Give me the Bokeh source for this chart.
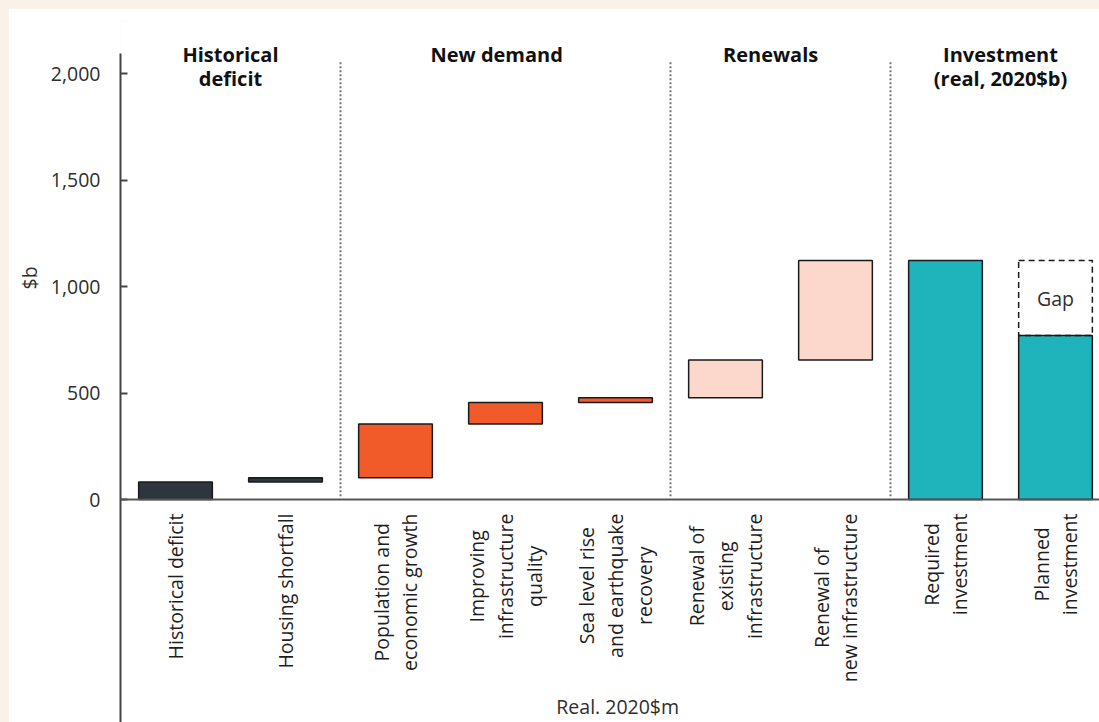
import math
from bokeh.plotting import figure
from bokeh.layouts import column
from bokeh.models import (ColumnDataSource, Range1d, FixedTicker, NumeralTickFormatter,
                          Label, Span, Title)
from bokeh.core.properties import value
from bokeh.embed import file_html
from bokeh.resources import INLINE

# ---- data ----
categories = ["Historical deficit", "Housing shortfall", "Population and\neconomic growth",
              "Improving\ninfrastructure\nquality", "Sea level rise\nand earthquake\nrecovery",
              "Renewal of\nexisting\ninfrastructure", "Renewal of\nnew infrastructure",
              "Required\ninvestment", "Planned\ninvestment"]
bar_bottom = [0, 82, 102, 355, 455, 478, 655, 0, 0]
bar_top = [82, 102, 355, 455, 478, 655, 1122, 1122, 770]
bar_group = ["Historical", "Historical", "New demand", "New demand", "New demand",
             "Renewals", "Renewals", "Investment", "Investment"]
gap_bottom = 770
gap_top = 1122
gap_label = "Gap"
group_titles = ["Historical\ndeficit", "New demand", "Renewals", "Investment\n(real, 2020$b)"]
y_ticks = [0, 500, 1000, 1500, 2000]
y_label = "$b"
x_label = "Real. 2020$m"

# ---- styles ----
FONT = "Open Sans"
group_colors = {"Historical": "#2D363F", "New demand": "#F15A29",
                "Renewals": "#FBD7CC", "Investment": "#1FB3BC"}
title_x = [0.5, 2.92, 5.41, 7.5]
sep_x = [1.5, 4.5, 6.5]
Y_TOP, Y_BOTTOM = 2249, -1047
AXIS_TOP = 2094

xs = list(range(len(categories)))
src = ColumnDataSource(dict(x=xs, bottom=bar_bottom, top=bar_top,
                            color=[group_colors[g] for g in bar_group],
                            label=categories))

p = figure(width=1091, height=714, x_range=Range1d(-0.5, 8.4), y_range=Range1d(Y_BOTTOM, Y_TOP),
           output_backend="svg", toolbar_location=None, x_axis_location=None,
           min_border_left=112, min_border_top=12, min_border_right=0, min_border_bottom=0,
           background_fill_color="white", border_fill_color="white")
p.outline_line_color = None
p.grid.visible = False

# y axis
ya = p.yaxis[0]
ya.bounds = (Y_BOTTOM, AXIS_TOP)
ya.ticker = FixedTicker(ticks=y_ticks)
ya.formatter = NumeralTickFormatter(format="0,0")
ya.major_tick_in = 7
ya.major_tick_out = 0
ya.minor_tick_line_color = None
ya.axis_line_width = 2
ya.axis_line_color = "#444444"
ya.major_tick_line_width = 2
ya.major_tick_line_color = "#444444"
ya.major_label_text_font = FONT
ya.major_label_text_font_size = "19.5px"
ya.major_label_text_color = "#2e2e2e"
ya.major_label_standoff = 20

# y axis title ("$b"), placed near the 1,000 tick via a side title
p.add_layout(Title(text=y_label, align="left", offset=433, standoff=10,
                   text_font=FONT, text_font_size="19.5px", text_font_style="normal",
                   text_color="#2e2e2e"), "left")

# baseline (x axis line)
p.add_layout(Span(location=0, dimension="width", line_color="#555555", line_width=2))

# separators
p.segment(x0=sep_x, y0=[15] * 3, x1=sep_x, y1=[2055] * 3, line_color="#777777",
          line_width=2, line_dash="2 2")

# bars
p.vbar(x="x", bottom="bottom", top="top", width=0.67, fill_color="color",
       line_color="#1a1a1a", line_width=1.5, source=src)

# gap
p.vbar(x=[xs[-1]], bottom=[gap_bottom], top=[gap_top], width=0.67, fill_color=None,
       line_color="#1a1a1a", line_width=1.5, line_dash="6 4")
p.add_layout(Label(x=xs[-1], y=(gap_bottom + gap_top) / 2, text=gap_label,
                   text_font=FONT, text_font_size="19.5px", text_color="#2e2e2e",
                   text_align="center", text_baseline="middle"))

# category labels
p.text(x="x", y=0, text="label", source=src, angle=math.pi / 2, y_offset=14,
       anchor="center_right", text_align="center", text_baseline="middle",
       text_font=value(FONT), text_font_size="19.5px", text_color="#1e1e1e",
       text_line_height=1.07)

# group titles
for tx, tt in zip(title_x, group_titles):
    p.add_layout(Label(x=tx, y=2155, text=tt, text_font=FONT, text_font_size="20px",
                       text_font_style="bold", text_color="#111111",
                       text_align="center", text_baseline="top", text_line_height=0.92))

# x axis title
p.add_layout(Label(x=4.02, y=-972, text=x_label, text_font=FONT,
                   text_font_size="19.5px", text_color="#2e2e2e",
                   text_align="center", text_baseline="middle"))

layout = column(p, styles={"background-color": "#FAF1E8", "padding-left": "8px",
                           "padding-top": "8px"})

open("out.html", "w").write(file_html(layout, INLINE))
